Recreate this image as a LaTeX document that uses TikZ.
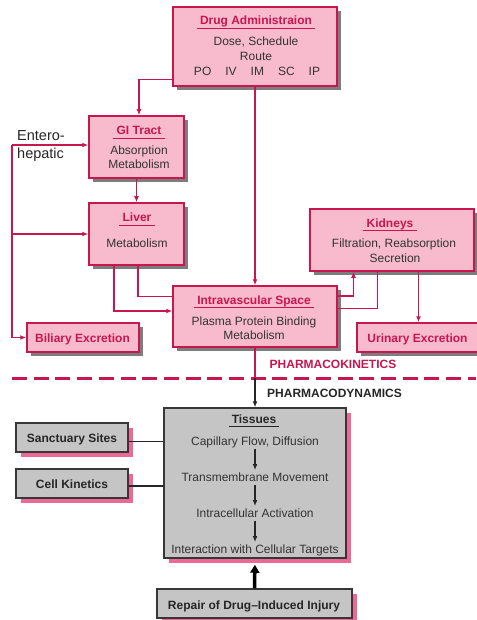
\documentclass[tikz,border=0pt]{standalone}
\usepackage{fontspec}
\setmainfont{Liberation Sans}
\usetikzlibrary{shadows,arrows.meta}
\definecolor{pkfill}{RGB}{247,187,205}
\definecolor{pkline}{RGB}{200,22,78}
\definecolor{gyfill}{RGB}{197,197,197}
\definecolor{gyline}{RGB}{55,55,55}
\definecolor{shgray}{RGB}{125,125,125}
\definecolor{shpink}{RGB}{236,105,150}
\begin{document}
\begin{tikzpicture}[x=1pt,y=-1pt,
  every node/.style={font=\fontsize{12}{14}\selectfont, inner sep=0pt},
  pbox/.style={draw=pkline, fill=pkfill, line width=1.5pt,
    drop shadow={shadow xshift=4pt, shadow yshift=-4pt, fill=shgray, opacity=1}},
  gbox/.style={draw=gyline, fill=gyfill, line width=1.5pt,
    drop shadow={shadow xshift=5pt, shadow yshift=-5pt, fill=shpink, opacity=1}},
  ptitle/.style={font=\fontsize{12}{14}\selectfont\bfseries, text=pkline, anchor=base, inner xsep=3pt},
  gtitle/.style={font=\fontsize{12}{14}\selectfont\bfseries, text=black!85, anchor=base, inner xsep=3pt},
  body/.style={anchor=base, text=black!80},
  pk/.style={draw=pkline, line width=1.3pt},
  pka/.style={pk, -{Latex[length=6pt,width=5pt]}},
  bk/.style={draw=black!85, line width=1.3pt},
  bka/.style={bk, -{Latex[length=6pt,width=5pt]}},
  ulp/.style={draw=pkline, line width=1.1pt},
  ulg/.style={draw=black!85, line width=1.1pt}
]
\useasboundingbox[fill=white] (0,0) rectangle (476,620);

% ---------- boxes ----------
\node[pbox, minimum width=164pt, minimum height=79pt] (drug) at (255,46.5) {};
\node[pbox, minimum width=95pt, minimum height=62pt] (gi) at (136.5,147) {};
\node[pbox, minimum width=95pt, minimum height=62pt] (liver) at (136.5,234) {};
\node[pbox, minimum width=164pt, minimum height=62pt] (kid) at (392,240) {};
\node[pbox, minimum width=164pt, minimum height=61pt] (intra) at (255,316.5) {};
\node[pbox, minimum width=112pt, minimum height=29pt] (bil) at (83,337.5) {};
\node[pbox, minimum width=121pt, minimum height=29pt] (uri) at (417.5,337.5) {};
\node[gbox, minimum width=182pt, minimum height=150pt] (tis) at (255,483) {};
\node[gbox, minimum width=112pt, minimum height=29pt] (sanct) at (72,437.5) {};
\node[gbox, minimum width=112pt, minimum height=29pt] (cell) at (72,483.5) {};
\node[gbox, minimum width=195pt, minimum height=29pt] (rep) at (254.5,603.5) {};

% ---------- texts ----------
\node[ptitle] (drugT) at (256,24.3) {Drug Administraion};
\draw[ulp] ([yshift=-3.8pt]drugT.base west) -- ([yshift=-3.8pt]drugT.base east);
\node[body] (drug1) at (256,46) {Dose, Schedule};
\node[body] (drug2) at (256,61) {Route};
\node[body] (drug3) at (257,76) {PO\hspace{14pt}IV\hspace{14pt}IM\hspace{14pt}SC\hspace{14pt}IP};

\node[ptitle] (giT) at (139,135) {GI Tract};
\draw[ulp] ([yshift=-3.8pt]giT.base west) -- ([yshift=-3.8pt]giT.base east);
\node[body] (gi1) at (139,155) {Absorption};
\node[body] (gi2) at (139,169) {Metabolism};

\node[ptitle] (livT) at (137,222) {Liver};
\draw[ulp] ([yshift=-3.8pt]livT.base west) -- ([yshift=-3.8pt]livT.base east);
\node[body] (liv1) at (137,247) {Metabolism};

\node[ptitle] (kidT) at (390,227) {Kidneys};
\draw[ulp] ([yshift=-3.8pt]kidT.base west) -- ([yshift=-3.8pt]kidT.base east);
\node[body] (kid1) at (394,247) {Filtration, Reabsorption};
\node[body] (kid2) at (395,262) {Secretion};

\node[ptitle] (intT) at (254,304) {Intravascular Space};
\draw[ulp] ([yshift=-3.8pt]intT.base west) -- ([yshift=-3.8pt]intT.base east);
\node[body] (int1) at (254,325) {Plasma Protein Binding};
\node[body] (int2) at (254,339) {Metabolism};

\node[ptitle, inner xsep=0pt] (bilT) at (82.5,342) {Biliary Excretion};
\node[ptitle, inner xsep=0pt] (uriT) at (417.5,342) {Urinary Excretion};

\node[anchor=base west, font=\fontsize{14.5}{18}\selectfont, text=black!85] (ent1) at (17,141) {Entero-};
\node[anchor=base west, font=\fontsize{14.5}{18}\selectfont, text=black!85] (ent2) at (17,159) {hepatic};

\node[ptitle, inner xsep=0pt] (pkin) at (333,368) {PHARMACOKINETICS};
\node[gtitle, inner xsep=0pt] (pdyn) at (334.5,397) {PHARMACODYNAMICS};

\node[gtitle] (tisT) at (254,423) {Tissues};
\draw[ulg] ([yshift=-3.8pt]tisT.base west) -- ([yshift=-3.8pt]tisT.base east);
\node[body] (t1) at (255,445) {Capillary Flow, Diffusion};
\node[body] (t2) at (255,481) {Transmembrane Movement};
\node[body] (t3) at (255,517) {Intracellular Activation};
\node[body] (t4) at (255,553) {Interaction with Cellular Targets};

\node[gtitle, inner xsep=0pt] (sanT) at (72,442) {Sanctuary Sites};
\node[gtitle, inner xsep=0pt] (celT) at (72,488) {Cell Kinetics};
\node[gtitle, inner xsep=0pt] (repT) at (254,609) {Repair of Drug--Induced Injury};

% ---------- dashed separator ----------
\coordinate (dL) at (12,378);
\coordinate (dR) at (476,378);
\draw[draw=pkline, line width=3pt, dash pattern=on 15pt off 6.7pt] (dL) -- (dR);

% ---------- connectors ----------
\draw[pka] ([yshift=7pt]drug.south west) -| ([xshift=2.5pt]gi.north);
\draw[pka] (drug.south) -- (intra.north);
\draw[pka] (gi.south) -- (liver.north);

\coordinate (ehT) at (12,145);
\coordinate (ehB) at (12,337.5);
\draw[pk] (ehT) -- (ehB);
\draw[pka] (ehT) -- (gi.west |- ehT);
\draw[pka] (ehT |- liver.west) -- (liver.west);
\draw[pka] (ehB) -- (bil.west);

\draw[pka] ([xshift=-22.5pt]liver.south) |- ([yshift=5.5pt]intra.west);
\draw[pk] ([xshift=1.5pt]liver.south) |- ([yshift=20pt]intra.west);

\draw[pka] ([yshift=20.5pt]intra.east) -| ([xshift=-38.5pt]kid.south);
\draw[pk] ([xshift=-14.5pt]kid.south) |- ([yshift=8pt]intra.east);
\coordinate (kurA) at ([xshift=26.5pt]kid.south);
\draw[pka] (kurA) -- (kurA |- uri.north);

\coordinate (cross) at (intra.south |- dL);
\draw[pk] (intra.south) -- (cross);
\draw[bka] (cross) -- (tis.north);

\draw[bka] ([yshift=-4pt]t1.base) -- ([yshift=11pt]t2.base);
\draw[bka] ([yshift=-4pt]t2.base) -- ([yshift=11pt]t3.base);
\draw[bka] ([yshift=-4pt]t3.base) -- ([yshift=11pt]t4.base);

\coordinate (sanA) at ([yshift=-4pt]sanct.east);
\coordinate (celA) at ([yshift=-2.5pt]cell.east);
\draw[bk] (sanA) -- (sanA -| tis.west);
\draw[bk] (celA) -- (celA -| tis.west);

\draw[draw=black, line width=3.5pt, -{Triangle[length=8pt,width=9pt]}, shorten >=6pt] (rep.north) -- (tis.south);
\end{tikzpicture}
\end{document}
